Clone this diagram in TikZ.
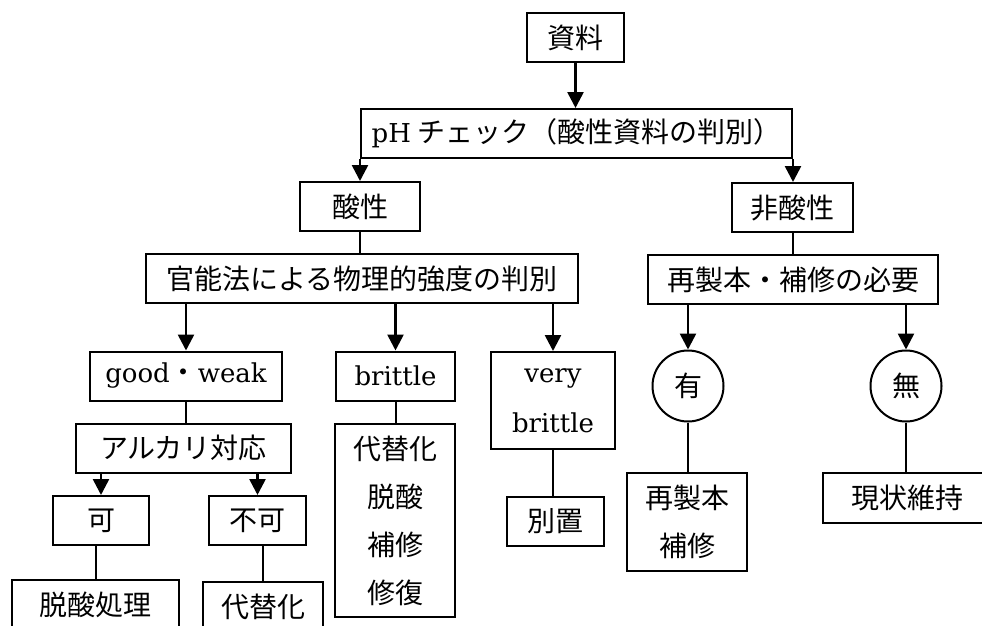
\documentclass[tikz,border=0pt]{standalone}
\usepackage{fontspec}
\newfontfamily\cjk{Noto Sans CJK JP}
\newfontfamily\lat{DejaVu Serif}
\usetikzlibrary{arrows.meta}
\begin{document}
\begin{tikzpicture}[x=1pt,y=-1pt,
  box/.style={draw, line width=2pt, inner sep=0pt, minimum height=49pt, align=center,
    font=\fontsize{28}{48}\selectfont\cjk},
  lbox/.style={box, font=\fontsize{26}{50}\selectfont\lat},
  circ/.style={draw, circle, line width=2pt, minimum size=71pt, inner sep=0pt,
    font=\fontsize{28}{34}\selectfont\cjk},
  arr/.style={line width=2.6pt, -{Triangle[length=16pt,width=16pt]}},
  ln/.style={line width=2pt}]
\clip (0,0) rectangle (982,626);
\fill[white] (0,0) rectangle (982,626);

% nodes
\node[box, minimum width=97pt] (shiryo) at (575.5,37.5) {資料};
\node[box, minimum width=431pt] (ph) at (576.5,133.5) {{\fontsize{26}{48}\selectfont\lat pH} チェック（酸性資料の判別）};
\node[box, minimum width=120pt] (acid) at (360,206.5) {酸性};
\node[box, minimum width=121pt] (nonacid) at (792.5,207.5) {非酸性};
\node[box, minimum width=432pt] (kanno) at (362,278.5) {官能法による物理的強度の判別};
\node[box, minimum width=290pt] (need) at (793,279.5) {再製本・補修の必要};
\node[lbox, minimum width=192pt] (gw) at (186,376) {good{\fontsize{28}{48}\selectfont\cjk ・}weak};
\node[lbox, minimum width=119pt] (brittle) at (395.5,376) {brittle};
\node[lbox, minimum width=124pt, minimum height=97pt] (vb) at (553,400.5) {very\\brittle};
\node[circ] (yes) at (688,386) {有};
\node[circ] (no) at (906,386) {無};
\node[box, minimum width=215pt] (alk) at (183.5,448) {アルカリ対応};
\node[box, minimum width=120pt, minimum height=193pt] (tall) at (395,520.5) {代替化\\脱酸\\補修\\修復};
\node[box, minimum width=97pt] (bechi) at (555.5,521.5) {別置};
\node[box, minimum width=120pt, minimum height=98pt] (rebind) at (687,522) {再製本\\補修};
\node[box, minimum width=168pt, minimum height=50pt] (keep) at (907,498) {現状維持};
\node[box, minimum width=96pt] (ka) at (101,520.5) {可};
\node[box, minimum width=97pt] (fuka) at (257.5,520.5) {不可};
\node[box, minimum width=167pt] (datsusan) at (95.5,604.5) {脱酸処理};
\node[box, minimum width=120pt] (daitai) at (263,606.5) {代替化};

% connectors
\draw[arr] (shiryo.south) -- (shiryo.south |- ph.north);
\draw[arr] (ph.south west) -- (ph.south west |- acid.north);
\draw[arr] (ph.south east) -- (ph.south east |- nonacid.north);
\draw[ln] (acid.south) -- (acid.south |- kanno.north);
\draw[ln] (nonacid.south) -- (nonacid.south |- need.north);
\draw[arr] (gw.north |- kanno.south) -- (gw.north);
\draw[arr] (brittle.north |- kanno.south) -- (brittle.north);
\draw[arr] (vb.north |- kanno.south) -- (vb.north);
\draw[arr] (yes.north |- need.south) -- (yes.north);
\draw[arr] (no.north |- need.south) -- (no.north);
\draw[ln] (gw.south) -- (gw.south |- alk.north);
\draw[ln] (brittle.south) -- (brittle.south |- tall.north);
\draw[ln] (vb.south) -- (vb.south |- bechi.north);
\draw[ln] (yes.south) -- (yes.south |- rebind.north);
\draw[ln] (no.south) -- (no.south |- keep.north);
\draw[arr] (ka.north |- alk.south) -- (ka.north);
\draw[arr] (fuka.north |- alk.south) -- (fuka.north);
\draw[ln] (datsusan.north |- ka.south) -- (datsusan.north);
\draw[ln] (daitai.north |- fuka.south) -- (daitai.north);
\end{tikzpicture}
\end{document}
